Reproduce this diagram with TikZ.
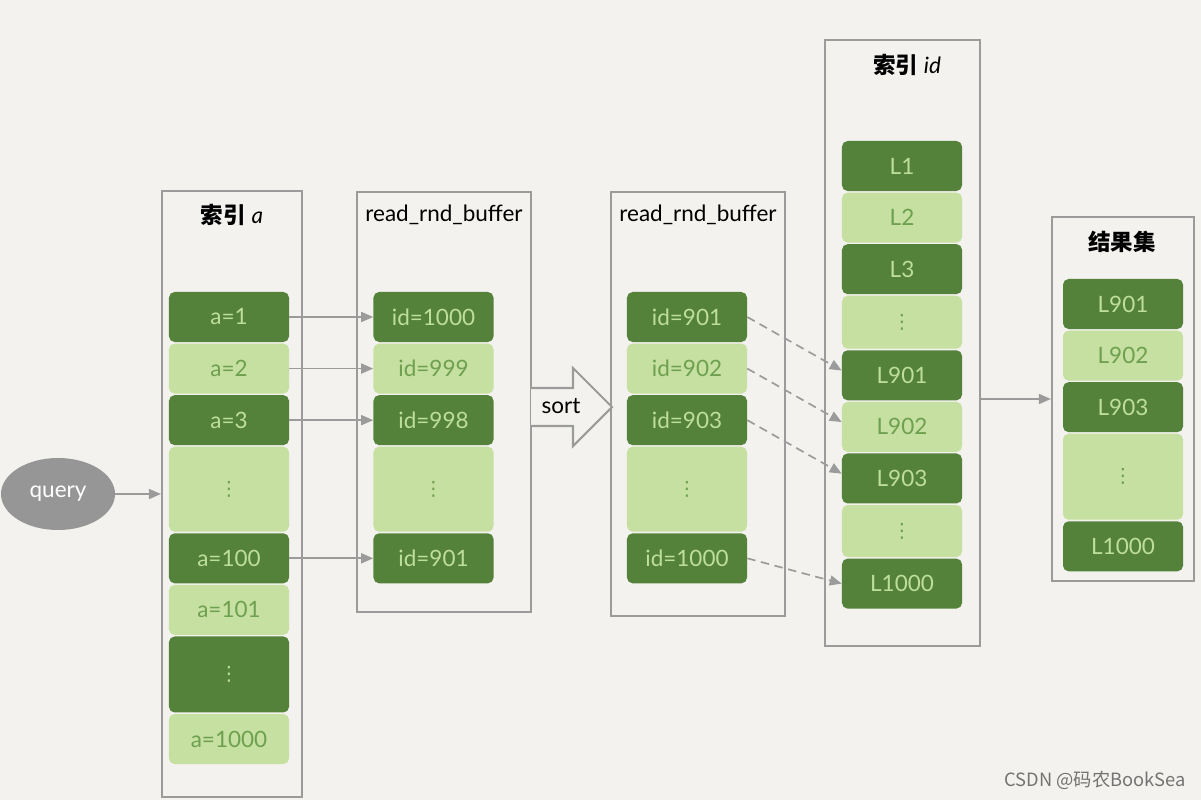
\documentclass[tikz,border=0pt]{standalone}
\usepackage{fontspec}
\setmainfont{Lato}
\newfontfamily\cjk{Noto Sans CJK SC}
\newfontfamily\symb{DejaVu Sans}
\usetikzlibrary{positioning,arrows.meta,shapes.geometric}
\definecolor{PaperBg}{RGB}{243,242,238}
\definecolor{DarkLeaf}{RGB}{84,130,59}
\definecolor{LightLeaf}{RGB}{197,224,160}
\definecolor{DarkText}{RGB}{190,222,155}
\definecolor{LightText}{RGB}{110,160,80}
\definecolor{FrameGray}{RGB}{155,155,155}
\definecolor{QueryGray}{RGB}{150,150,150}
\newcommand{\celldots}{{\symb\fontsize{14}{16}\selectfont ⋮}}
\tikzset{
  frame/.style={draw=FrameGray,line width=1.5pt,inner sep=0pt},
  title/.style={font=\fontsize{16}{18}\selectfont},
  cell/.style={rounded corners=4pt,minimum width=3cm,minimum height=1.25cm,
    inner sep=0pt,font=\fontsize{16}{18}\selectfont},
  darkcell/.style={cell,fill=DarkLeaf,text=DarkText},
  lightcell/.style={cell,fill=LightLeaf,text=LightText},
  link/.style={-{Triangle[length=0.3cm,width=0.25cm]},line width=1.2pt,draw=FrameGray},
  dashlink/.style={link,dash pattern=on 6pt off 4pt}
}

\begin{document}
\begin{tikzpicture}[x=0.025cm,y=-0.025cm]
  \fill[PaperBg] (0,0) rectangle (1201,800);
  \useasboundingbox (0,0) rectangle (1201,800);

  % frames
  \node[frame,minimum width=3.5cm,minimum height=15.15cm] (idxa) at (232,494) {};
  \node[frame,minimum width=4.35cm,minimum height=10.5cm] (bufone) at (444,402) {};
  \node[frame,minimum width=4.35cm,minimum height=10.6cm] (buftwo) at (698,404) {};
  \node[frame,minimum width=3.875cm,minimum height=15.15cm] (idxid) at (902.5,343) {};
  \node[frame,minimum width=3.55cm,minimum height=9.1cm] (result) at (1123,399) {};

  \node[title] (tidxa) at (232,215) {{\cjk\bfseries 索引} \textit{a}};
  \node[title] (tbufone) at (444,215) {read\_rnd\_buffer};
  \node[title] (tbuftwo) at (698,215) {read\_rnd\_buffer};
  \node[title] (tidxid) at (907,65) {{\cjk\bfseries 索引} \textit{id}};
  \node[title] (tresult) at (1122,242) {\cjk\bfseries 结果集};

  % index a
  \node[darkcell] (a1) at (229,317) {a=1};
  \node[lightcell,below=0.025cm of a1] (a2) {a=2};
  \node[darkcell,below=0.025cm of a2] (a3) {a=3};
  \node[lightcell,below=0.025cm of a3,minimum height=2.125cm] (adots) {\celldots};
  \node[darkcell,below=0.025cm of adots] (a100) {a=100};
  \node[lightcell,below=0.025cm of a100] (a101) {a=101};
  \node[darkcell,below=0.025cm of a101,minimum height=1.9cm] (adotsb) {\celldots};
  \node[lightcell,below=0.025cm of adotsb] (a1000) {a=1000};

  % first buffer
  \node[darkcell] (b1000) at (433.5,317) {id=1000};
  \node[lightcell,below=0.025cm of b1000] (b999) {id=999};
  \node[darkcell,below=0.025cm of b999] (b998) {id=998};
  \node[lightcell,below=0.025cm of b998,minimum height=2.125cm] (bdots) {\celldots};
  \node[darkcell,below=0.025cm of bdots] (b901) {id=901};

  % sorted buffer
  \node[darkcell] (c901) at (687,317) {id=901};
  \node[lightcell,below=0.025cm of c901] (c902) {id=902};
  \node[darkcell,below=0.025cm of c902] (c903) {id=903};
  \node[lightcell,below=0.025cm of c903,minimum height=2.125cm] (cdots) {\celldots};
  \node[darkcell,below=0.025cm of cdots] (c1000) {id=1000};

  % index id
  \node[darkcell] (L1) at (902,166) {L1};
  \node[lightcell,below=0.025cm of L1] (L2) {L2};
  \node[darkcell,below=0.025cm of L2] (L3) {L3};
  \node[lightcell,below=0.025cm of L3,minimum height=1.325cm] (Ldots) {\celldots};
  \node[darkcell,below=0.025cm of Ldots] (L901) {L901};
  \node[lightcell,below=0.025cm of L901] (L902) {L902};
  \node[darkcell,below=0.025cm of L902] (L903) {L903};
  \node[lightcell,below=0.025cm of L903,minimum height=1.3cm] (Ldotsb) {\celldots};
  \node[darkcell,below=0.025cm of Ldotsb] (L1000) {L1000};

  % result set
  \node[darkcell] (r901) at (1123,304) {L901};
  \node[lightcell,below=0.025cm of r901] (r902) {L902};
  \node[darkcell,below=0.025cm of r902] (r903) {L903};
  \node[lightcell,below=0.025cm of r903,minimum height=2.15cm] (rdots) {\celldots};
  \node[darkcell,below=0.025cm of rdots] (r1000) {L1000};

  \node[ellipse,fill=QueryGray,text=white,minimum width=2.85cm,minimum height=1.8cm,
    font=\fontsize{16}{18}\selectfont] (query) at (58,494) {query};

  % sort arrow
  \draw[draw=FrameGray,line width=1.5pt,fill=PaperBg,line join=miter]
    (531,388) -- (573,388) -- (573,368) -- (612,407) -- (573,446) -- (573,426) -- (531,426);
  \node[title] (sort) at (561,406) {sort};

  \draw[link] (query) -- (idxa);
  \draw[link] (a1) -- (b1000);
  \draw[link] (a2) -- (b999);
  \draw[link] (a3) -- (b998);
  \draw[link] (a100) -- (b901);
  \draw[dashlink] (c901.east) -- ([yshift=0.12cm]L901.west);
  \draw[dashlink] (c902.east) -- ([yshift=0.12cm]L902.west);
  \draw[dashlink] (c903.east) -- ([yshift=0.12cm]L903.west);
  \draw[dashlink] (c1000.east) -- (L1000.west);
  \draw[link] (idxid.east |- result.west) -- (result.west);

  \node[text=black!55,font=\cjk\fontsize{13}{15}\selectfont] (mark) at (1095,780) {CSDN @码农BookSea};
\end{tikzpicture}
\end{document}
